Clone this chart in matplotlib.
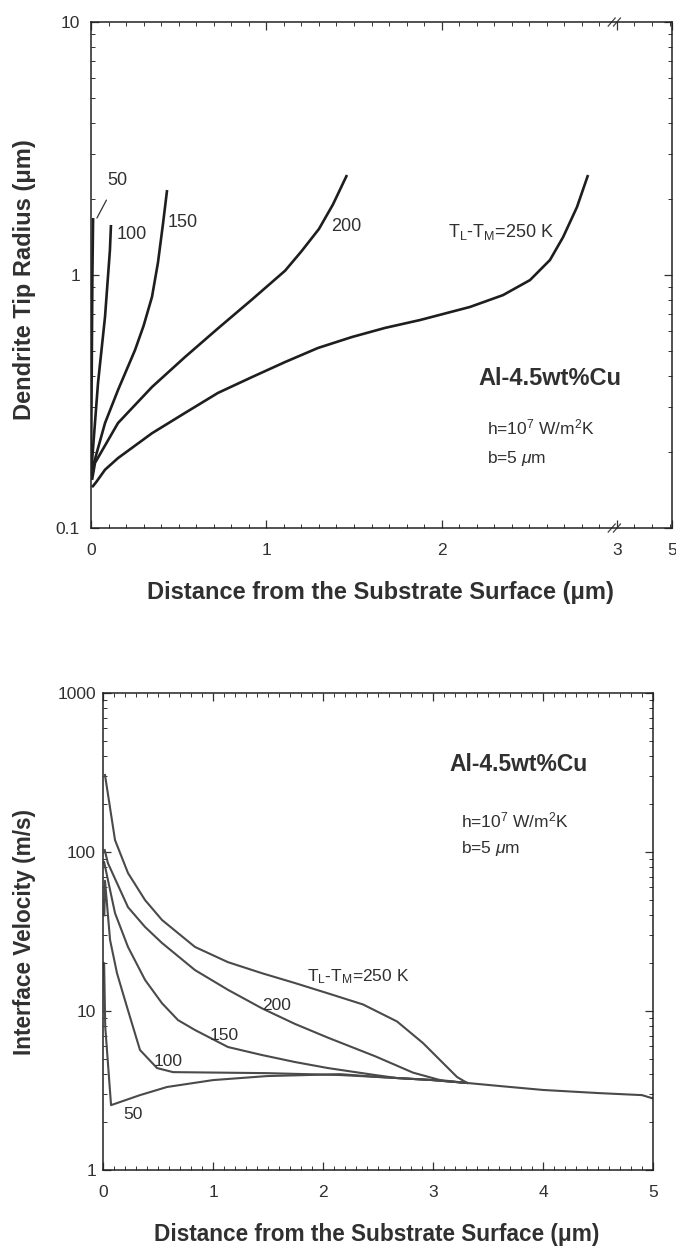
import matplotlib
matplotlib.use("Agg")
import matplotlib.pyplot as plt
import matplotlib.ticker as ticker
import matplotlib.transforms as mtransforms

plt.rcParams['font.family'] = ['Liberation Sans', 'DejaVu Sans']
plt.rcParams['mathtext.fontset'] = 'custom'
plt.rcParams['mathtext.rm'] = 'Liberation Sans'
plt.rcParams['mathtext.it'] = 'Liberation Sans:italic'
plt.rcParams['mathtext.bf'] = 'Liberation Sans:bold'

# ---- top panel: dendrite tip radius (um) vs distance (um) ----
r50_x = [0.0, 0.004, 0.008, 0.012]
r50_y = [0.16, 0.4, 1.0, 1.68]

r100_x = [0.0, 0.04, 0.08, 0.108, 0.114]
r100_y = [0.162, 0.374, 0.683, 1.255, 1.577]

r150_x = [0.006, 0.08, 0.154, 0.251, 0.30, 0.348, 0.382, 0.411, 0.434]
r150_y = [0.17, 0.26, 0.351, 0.505, 0.63, 0.82, 1.12, 1.60, 2.168]

r200_x = [0.006, 0.023, 0.154, 0.348, 0.536, 0.724, 0.918, 1.107, 1.20, 1.30, 1.38, 1.46]
r200_y = [0.155, 0.181, 0.26, 0.361, 0.474, 0.615, 0.80, 1.04, 1.24, 1.52, 1.90, 2.485]

r250_x = [0.006, 0.03, 0.08, 0.154, 0.348, 0.536, 0.724, 0.918, 1.107, 1.295, 1.489, 1.677,
          1.877, 2.162, 2.35, 2.504, 2.618, 2.693, 2.772, 2.835]
r250_y = [0.145, 0.152, 0.17, 0.189, 0.237, 0.285, 0.342, 0.395, 0.453, 0.515, 0.569, 0.618,
          0.664, 0.748, 0.833, 0.955, 1.147, 1.413, 1.857, 2.485]

# ---- bottom panel: interface velocity (m/s) vs distance (um) ----
tail_x = [3.31, 3.6, 4.0, 4.5, 4.9, 5.0]
tail_y = [3.53, 3.38, 3.19, 3.05, 2.96, 2.82]

v50_x = [0.01, 0.02, 0.073, 0.336, 0.582, 1.0, 1.49, 2.155, 2.5, 3.0]
v50_y = [20.0, 8.0, 2.56, 2.96, 3.33, 3.68, 3.9, 4.01, 3.85, 3.68]

v100_x = [0.012, 0.018, 0.064, 0.127, 0.218, 0.336, 0.491, 0.636, 1.49, 2.155, 2.5, 3.0]
v100_y = [40.0, 66.0, 28.0, 17.3, 10.6, 5.69, 4.38, 4.13, 4.07, 3.96, 3.85, 3.68]

v150_x = [0.01, 0.109, 0.227, 0.382, 0.536, 0.682, 0.836, 1.136, 1.445, 1.745,
          2.045, 2.473, 2.673, 3.0]
v150_y = [86.5, 41.3, 25.3, 15.7, 11.2, 8.77, 7.6, 5.94, 5.29, 4.78,
          4.38, 3.96, 3.79, 3.68]

v200_x = [0.015, 0.045, 0.227, 0.382, 0.536, 0.836, 1.136, 1.445, 1.745, 2.045,
          2.473, 2.818, 3.064]
v200_y = [103.0, 85.0, 45.0, 33.8, 26.8, 18.1, 13.6, 10.4, 8.3, 6.8,
          5.2, 4.1, 3.68]

v250_x = [0.018, 0.109, 0.227, 0.382, 0.536, 0.836, 1.136, 1.445, 1.745, 2.064,
          2.364, 2.673, 2.909, 3.091, 3.218]
v250_y = [305.0, 119.0, 73.8, 49.9, 37.4, 25.3, 20.3, 17.3, 15.0, 12.8,
          11.0, 8.6, 6.29, 4.71, 3.85]

top_xticks = [0, 1, 2, 3, 3.314]
top_xlabels = ['0', '1', '2', '3', '5']

fig = plt.figure(figsize=(6.76, 12.51), dpi=100)
ax1 = fig.add_axes([0.1346, 0.5779, 0.8595, 0.4045])
ax2 = fig.add_axes([0.1524, 0.0647, 0.8136, 0.3813])

txt = '#303030'

# top plot
for xs, ys in [(r50_x, r50_y), (r100_x, r100_y), (r150_x, r150_y),
               (r200_x, r200_y), (r250_x, r250_y)]:
    ax1.plot(xs, ys, color='#1e1e1e', lw=1.9, solid_capstyle='butt')

ax1.set_yscale('log')
ax1.set_ylim(0.1, 10)
ax1.set_xlim(0, 3.314)
ax1.set_xticks(top_xticks)
ax1.set_xticklabels(top_xlabels)
ax1.xaxis.set_minor_locator(ticker.MultipleLocator(0.1))

# axis break marks at x=3
trans = mtransforms.blended_transform_factory(ax1.transData, ax1.transAxes)
for yb in [0.0, 1.0]:
    for dx in [-0.03, 0.0]:
        ax1.plot([3.0 + dx - 0.02, 3.0 + dx + 0.02], [yb - 0.008, yb + 0.008],
                 transform=trans, color='#444444', lw=0.9, clip_on=False)

lab = 13
ax1.annotate('50', xy=(0.034, 1.68), xytext=(0.148, 2.37), fontsize=lab,
             color=txt, ha='center', va='center',
             arrowprops=dict(arrowstyle='-', color='#333333', lw=0.9,
                             shrinkA=7, shrinkB=0))
ax1.text(0.234, 1.44, '100', fontsize=lab, color=txt, ha='center', va='center')
ax1.text(0.525, 1.62, '150', fontsize=lab, color=txt, ha='center', va='center')
ax1.text(1.455, 1.56, '200', fontsize=lab, color=txt, ha='center', va='center')
ax1.text(2.34, 1.48, r'T$_\mathrm{L}$-T$_\mathrm{M}$=250 K', fontsize=lab,
         color=txt, ha='center', va='center')

ax1.text(0.79, 0.296, 'Al-4.5wt%Cu', transform=ax1.transAxes, fontsize=17,
         fontweight='bold', color=txt, ha='center', va='center')
ax1.text(0.681, 0.199, r'h=10$^7$ W/m$^2$K', transform=ax1.transAxes, fontsize=12.5,
         color=txt, ha='left', va='center')
ax1.text(0.681, 0.138, r'b=5 $\mu$m', transform=ax1.transAxes, fontsize=12.5,
         color=txt, ha='left', va='center')

ax1.set_ylabel('Dendrite Tip Radius (\u03bcm)', fontsize=17, fontweight='bold', color=txt)
ax1.set_xlabel('Distance from the Substrate Surface (\u03bcm)', fontsize=17,
               fontweight='bold', color=txt)
ax1.yaxis.set_label_coords(-0.114, 0.49)
ax1.xaxis.set_label_coords(0.499, -0.128)
ax1.xaxis.label.set_va('center')
ax1.yaxis.label.set_va('center')

# bottom plot
for xs, ys in [(v50_x, v50_y), (v100_x, v100_y), (v150_x, v150_y),
               (v200_x, v200_y), (v250_x, v250_y)]:
    ax2.plot(xs + [tail_x[0]], ys + [tail_y[0]], color='#4a4a4a', lw=1.5)
ax2.plot(tail_x, tail_y, color='#4a4a4a', lw=1.5)

ax2.set_yscale('log')
ax2.set_ylim(1, 1000)
ax2.set_xlim(0, 5)
ax2.set_xticks([0, 1, 2, 3, 4, 5])
ax2.xaxis.set_minor_locator(ticker.MultipleLocator(0.1))

lab2 = 12.5
ax2.text(2.318, 16.4, r'T$_\mathrm{L}$-T$_\mathrm{M}$=250 K', fontsize=lab2,
         color=txt, ha='center', va='center')
ax2.text(1.582, 10.9, '200', fontsize=lab2, color=txt, ha='center', va='center')
ax2.text(1.10, 7.06, '150', fontsize=lab2, color=txt, ha='center', va='center')
ax2.text(0.59, 4.85, '100', fontsize=lab2, color=txt, ha='center', va='center')
ax2.text(0.273, 2.22, '50', fontsize=lab2, color=txt, ha='center', va='center')

ax2.text(0.755, 0.851, 'Al-4.5wt%Cu', transform=ax2.transAxes, fontsize=16.5,
         fontweight='bold', color=txt, ha='center', va='center')
ax2.text(0.65, 0.733, r'h=10$^7$ W/m$^2$K', transform=ax2.transAxes, fontsize=12.5,
         color=txt, ha='left', va='center')
ax2.text(0.65, 0.675, r'b=5 $\mu$m', transform=ax2.transAxes, fontsize=12.5,
         color=txt, ha='left', va='center')

ax2.set_ylabel('Interface Velocity (m/s)', fontsize=16.3, fontweight='bold', color=txt)
ax2.set_xlabel('Distance from the Substrate Surface (\u03bcm)', fontsize=16.3,
               fontweight='bold', color=txt)
ax2.yaxis.set_label_coords(-0.142, 0.5)
ax2.xaxis.set_label_coords(0.498, -0.136)
ax2.xaxis.label.set_va('center')
ax2.yaxis.label.set_va('center')

for ax in [ax1, ax2]:
    ax.yaxis.set_major_formatter(ticker.FuncFormatter(lambda v, p: '%g' % v))
    ax.yaxis.set_minor_formatter(ticker.NullFormatter())
    ax.tick_params(which='both', direction='in', top=True, right=True,
                   colors='#333333', labelcolor=txt, labelsize=12.5)
    ax.tick_params(which='major', length=6, width=0.9)
    ax.tick_params(which='minor', length=3, width=0.7)
    ax.tick_params(axis='x', pad=11)
    for s in ax.spines.values():
        s.set_linewidth(1.1)
        s.set_color('#222222')
ax1.tick_params(axis='y', pad=8)
ax2.tick_params(axis='y', pad=5)

fig.savefig('out.png', dpi=100, facecolor='white')
